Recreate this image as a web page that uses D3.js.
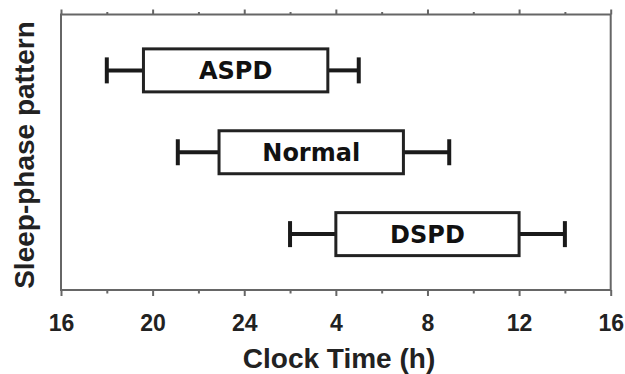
<!DOCTYPE html>
<meta charset="utf-8">
<style>
body { margin: 0; background: #fff; }
.frame { fill: none; stroke: #666; stroke-width: 2px; }
.tick line { stroke: #666; stroke-width: 2px; }
.tick text { font-family: "Liberation Sans", Arial, sans-serif; font-weight: bold; font-size: 23px; fill: #222; }
.box { fill: #fff; stroke: #222; stroke-width: 3px; }
.whisker { stroke: #1a1a1a; stroke-width: 4px; }
.label { font-family: "DejaVu Sans", Verdana, sans-serif; font-weight: bold; font-size: 24px; fill: #111; }
.title { font-family: "Liberation Sans", Arial, sans-serif; font-weight: bold; font-size: 28px; fill: #222; }
</style>
<div id="chart"></div>
<script src="https://d3js.org/d3.v7.min.js"></script>
<script>
// sleep phase groups, times in clock hours (after midnight = +24)
var groups = ["ASPD", "Normal", "DSPD"];
var whiskerLow = [18, 21.1, 26];
var boxLow = [19.6, 22.9, 28];
var boxHigh = [27.65, 30.95, 36];
var whiskerHigh = [29, 32.95, 38];
var tickValues = [16, 20, 24, 28, 32, 36, 40];
var tickLabels = ["16", "20", "24", "4", "8", "12", "16"];
var minorTicks = [18, 22, 26, 30, 34, 38];

var width = 625, height = 374;
var margin = {top: 14.5, right: 14.3, bottom: 84, left: 61};

var svg = d3.select("#chart").append("svg")
    .attr("width", width)
    .attr("height", height);

var x = d3.scaleLinear()
    .domain([16, 40])
    .range([margin.left, width - margin.right]);

var y = d3.scaleBand()
    .domain(groups)
    .range([margin.top, height - margin.bottom])
    .paddingInner(0.475)
    .paddingOuter(0.42);

var y0 = margin.top, y1 = height - margin.bottom;

// bottom axis
svg.append("g")
    .attr("transform", "translate(0," + y1 + ")")
    .call(d3.axisBottom(x).tickValues(tickValues).tickSize(6).tickPadding(18.5)
      .tickFormat(function(d, i) { return tickLabels[i]; }))
    .call(function(g) { g.select(".domain").remove(); });
svg.append("g")
    .attr("transform", "translate(0," + y1 + ")")
    .call(d3.axisBottom(x).tickValues(minorTicks).tickSize(3.5).tickFormat(""))
    .call(function(g) { g.select(".domain").remove(); });

// top axis, ticks only
svg.append("g")
    .attr("transform", "translate(0," + y0 + ")")
    .call(d3.axisTop(x).tickValues(tickValues).tickSize(5).tickFormat(""))
    .call(function(g) { g.select(".domain").remove(); });
svg.append("g")
    .attr("transform", "translate(0," + y0 + ")")
    .call(d3.axisTop(x).tickValues(minorTicks).tickSize(2.5).tickFormat(""))
    .call(function(g) { g.select(".domain").remove(); });

// frame
svg.append("rect")
    .attr("class", "frame")
    .attr("x", x(16))
    .attr("y", y0)
    .attr("width", x(40) - x(16))
    .attr("height", y1 - y0);

var rows = svg.selectAll(".row")
    .data(groups)
    .enter().append("g")
    .attr("class", "row");

var bw = y.bandwidth();
var capH = 26;

// whisker lines
rows.append("line")
    .attr("class", "whisker")
    .attr("x1", function(d, i) { return x(whiskerLow[i]); })
    .attr("x2", function(d, i) { return x(boxLow[i]); })
    .attr("y1", function(d) { return y(d) + bw / 2; })
    .attr("y2", function(d) { return y(d) + bw / 2; });
rows.append("line")
    .attr("class", "whisker")
    .attr("x1", function(d, i) { return x(boxHigh[i]); })
    .attr("x2", function(d, i) { return x(whiskerHigh[i]); })
    .attr("y1", function(d) { return y(d) + bw / 2; })
    .attr("y2", function(d) { return y(d) + bw / 2; });

// caps
rows.append("line")
    .attr("class", "whisker")
    .attr("x1", function(d, i) { return x(whiskerLow[i]); })
    .attr("x2", function(d, i) { return x(whiskerLow[i]); })
    .attr("y1", function(d) { return y(d) + bw / 2 - capH / 2; })
    .attr("y2", function(d) { return y(d) + bw / 2 + capH / 2; });
rows.append("line")
    .attr("class", "whisker")
    .attr("x1", function(d, i) { return x(whiskerHigh[i]); })
    .attr("x2", function(d, i) { return x(whiskerHigh[i]); })
    .attr("y1", function(d) { return y(d) + bw / 2 - capH / 2; })
    .attr("y2", function(d) { return y(d) + bw / 2 + capH / 2; });

// boxes
rows.append("rect")
    .attr("class", "box")
    .attr("x", function(d, i) { return x(boxLow[i]); })
    .attr("y", function(d) { return y(d); })
    .attr("width", function(d, i) { return x(boxHigh[i]) - x(boxLow[i]); })
    .attr("height", bw);

rows.append("text")
    .attr("class", "label")
    .attr("text-anchor", "middle")
    .attr("x", function(d, i) { return (x(boxLow[i]) + x(boxHigh[i])) / 2; })
    .attr("y", function(d) { return y(d) + bw / 2 + 8.5; })
    .text(function(d) { return d; });

// axis titles
svg.append("text")
    .attr("class", "title")
    .attr("text-anchor", "middle")
    .attr("x", 339)
    .attr("y", 368)
    .text("Clock Time (h)");

svg.append("text")
    .attr("class", "title")
    .attr("text-anchor", "middle")
    .attr("transform", "translate(34," + 155 + ")rotate(-90)")
    .text("Sleep-phase pattern");
</script>
